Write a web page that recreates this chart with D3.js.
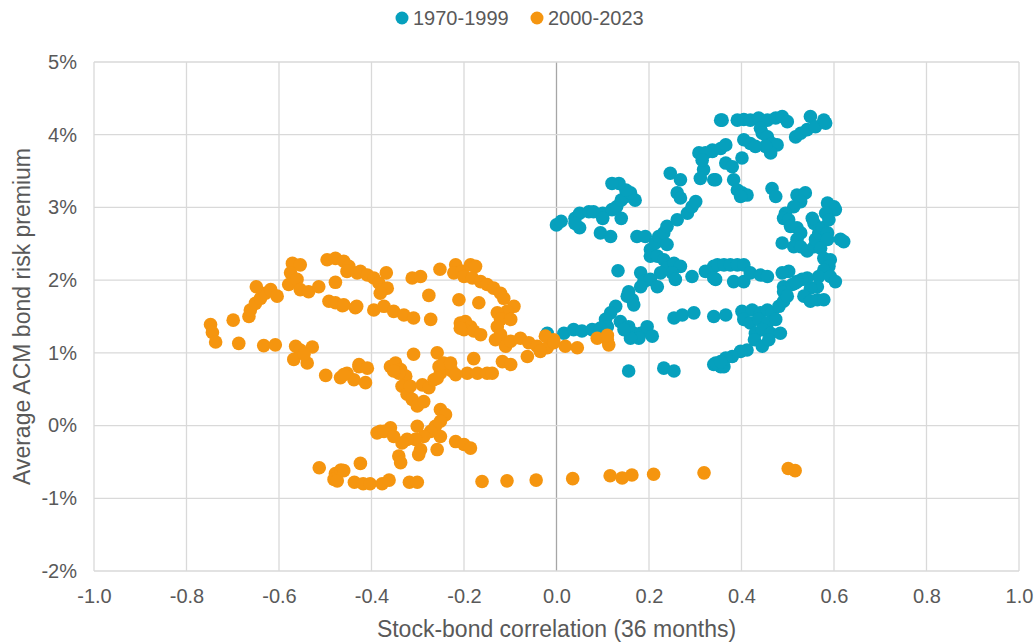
<!DOCTYPE html>
<html>
<head>
<meta charset="utf-8">
<script src="https://cdn.jsdelivr.net/npm/d3@7"></script>
<style>
  body { margin: 0; background: #fff; }
  svg { font-family: "Liberation Sans", Arial, sans-serif; }
</style>
</head>
<body>
<svg width="1034" height="643"></svg>
<script>
// Series names and colours
const seriesNames = ["1970-1999", "2000-2023"];
const seriesColors = ["#06A0BD", "#F5950F"];

// x = stock-bond correlation, y = ACM bond risk premium (%)
const points1970 = [
  [-0.02,1.27],[0.00,2.76],[0.01,2.81],[0.04,2.85],[0.05,2.92],[0.07,2.94],[0.08,2.94],[0.10,2.92],
  [0.12,2.97],[0.13,3.01],[0.14,3.10],[0.15,3.15],[0.17,3.10],[0.16,3.20],[0.15,3.24],[0.135,3.33],
  [0.12,3.33],[0.14,2.85],[0.10,2.85],[0.05,2.72],[0.04,2.78],[0.095,2.65],[0.117,2.60],[0.133,2.13],
  [0.174,2.60],[0.192,2.60],[0.203,2.42],[0.214,2.51],[0.221,2.60],[0.232,2.65],[0.239,2.74],[0.239,2.49],
  [0.203,2.33],[0.218,2.33],[0.261,2.83],[0.283,2.92],[0.293,3.01],[0.301,3.08],[0.246,3.47],[0.268,3.38],
  [0.261,3.20],[0.268,3.13],[0.308,3.75],[0.318,3.52],[0.311,3.40],[0.340,3.38],[0.337,3.79],[0.355,4.20],
  [0.232,2.28],[0.239,2.17],[0.254,2.23],[0.268,2.19],[0.250,2.10],[0.225,2.10],[0.257,2.01],[0.293,2.05],
  [0.322,2.12],[0.340,2.19],[0.344,2.01],[0.182,2.10],[0.189,1.98],[0.203,2.01],[0.218,1.91],[0.182,1.91],
  [0.156,1.84],[0.164,1.73],[0.167,1.66],[0.153,1.78],[0.128,1.64],[0.117,1.55],[0.106,1.46],[0.110,1.36],
  [0.138,1.43],[0.156,1.36],[0.167,1.27],[0.182,1.27],[0.196,1.36],[0.207,1.23],[0.178,1.20],[0.160,1.20],
  [0.146,1.32],[0.016,1.27],[0.037,1.32],[0.055,1.30],[0.077,1.32],[0.095,1.34],[0.254,1.48],[0.272,1.52],
  [0.297,1.55],[0.340,1.50],[0.156,0.75],[0.232,0.79],[0.254,0.75],[0.340,0.84],[0.355,0.81],
  [0.358,4.20],[0.391,4.20],[0.405,4.21],[0.419,4.20],[0.437,4.23],[0.456,4.20],[0.474,4.23],[0.488,4.25],
  [0.499,4.18],[0.441,4.09],[0.445,4.02],[0.456,3.97],[0.466,3.88],[0.477,3.86],[0.463,3.75],[0.452,3.84],
  [0.405,3.93],[0.419,3.88],[0.430,3.84],[0.517,3.97],[0.528,4.02],[0.542,4.07],[0.549,4.25],[0.560,4.11],
  [0.578,4.20],[0.582,4.16],[0.337,3.77],[0.355,3.81],[0.366,3.86],[0.322,3.75],[0.315,3.65],[0.366,3.61],
  [0.380,3.56],[0.401,3.68],[0.344,3.38],[0.383,3.38],[0.391,3.24],[0.401,3.20],[0.412,3.17],[0.398,3.15],
  [0.466,3.26],[0.474,3.15],
  [0.520,3.17],[0.538,3.20],[0.528,3.08],[0.513,3.01],[0.495,2.92],[0.491,2.85],[0.502,2.83],[0.506,2.74],
  [0.520,2.72],[0.528,2.65],[0.520,2.56],[0.513,2.46],[0.488,2.51],[0.528,2.46],[0.542,2.40],[0.557,2.46],
  [0.560,2.56],[0.567,2.65],[0.557,2.78],[0.553,2.85],[0.575,2.72],[0.586,2.65],[0.586,3.06],[0.600,3.01],
  [0.603,2.97],[0.582,2.92],[0.589,2.83],[0.614,2.56],[0.621,2.53],[0.586,2.56],[0.571,2.44],[0.578,2.30],
  [0.592,2.28],[0.589,2.19],[0.578,2.14],[0.567,2.05],[0.592,2.05],[0.603,1.98],[0.564,1.91],[0.549,1.89],
  [0.542,2.03],[0.531,2.01],[0.520,1.98],[0.502,2.12],[0.488,2.10],[0.491,1.91],[0.491,1.84],[0.510,1.94],
  [0.517,1.96],[0.535,1.78],[0.549,1.71],[0.564,1.73],[0.578,1.73],
  [0.340,2.03],[0.348,2.21],[0.362,2.21],[0.376,2.21],[0.391,2.21],[0.405,2.21],[0.383,1.98],[0.405,1.98],
  [0.419,2.10],[0.441,2.07],[0.456,2.05],[0.366,1.52],
  [0.401,1.57],[0.423,1.59],[0.441,1.55],[0.456,1.59],[0.466,1.55],[0.481,1.64],[0.491,1.71],[0.499,1.78],
  [0.405,1.46],[0.419,1.41],[0.437,1.46],[0.456,1.41],[0.474,1.46],[0.430,1.27],[0.445,1.32],[0.463,1.27],
  [0.484,1.27],[0.428,1.18],[0.445,1.09],[0.459,1.18],[0.412,1.04],[0.398,1.02],[0.380,0.95],[0.366,0.93],
  [0.344,0.86],[0.362,0.81],[0.355,0.88]
];

const points2000 = [
  [-0.748,1.39],[-0.744,1.28],[-0.737,1.15],[-0.699,1.45],[-0.687,1.13],[-0.665,1.50],[-0.662,1.59],
  [-0.651,1.68],[-0.640,1.75],[-0.629,1.82],[-0.618,1.87],[-0.604,1.78],[-0.649,1.91],[-0.633,1.10],
  [-0.608,1.11],[-0.571,2.23],[-0.554,2.21],[-0.575,2.10],[-0.579,1.94],[-0.561,2.01],[-0.554,1.87],
  [-0.536,1.84],[-0.514,1.91],[-0.564,1.09],[-0.554,1.04],[-0.528,1.08],[-0.568,0.91],[-0.539,0.86],
  [-0.546,0.98],[-0.499,0.69],[-0.467,0.66],[-0.453,0.72],[-0.438,0.63],[-0.427,0.81],[-0.496,2.28],
  [-0.478,2.30],[-0.460,2.26],[-0.449,2.19],[-0.453,2.12],[-0.431,2.10],[-0.478,1.97],[-0.492,1.71],
  [-0.478,1.69],[-0.463,1.65],[-0.435,1.62],
  [-0.424,2.12],[-0.409,2.07],[-0.395,2.03],[-0.384,1.96],[-0.377,1.87],[-0.366,1.89],[-0.381,1.82],
  [-0.368,2.10],[-0.460,1.66],[-0.432,1.64],[-0.395,1.59],[-0.373,1.64],[-0.352,1.57],[-0.330,1.52],
  [-0.309,1.48],[-0.272,1.46],[-0.312,2.03],[-0.294,2.05],[-0.276,1.79],[-0.252,2.15],
  [-0.218,2.21],[-0.222,2.10],[-0.204,2.12],[-0.186,2.21],[-0.175,2.19],[-0.200,2.05],[-0.182,2.03],
  [-0.164,1.98],[-0.150,1.94],[-0.136,1.89],[-0.121,1.82],[-0.114,1.75],[-0.092,1.64],[-0.107,1.57],
  [-0.128,1.55],[-0.121,1.46],[-0.099,1.46],[-0.128,1.36],[-0.121,1.25],[-0.132,1.18],[-0.110,1.09],
  [-0.099,1.16],[-0.211,1.73],[-0.168,1.69],[-0.208,1.41],[-0.197,1.43],[-0.186,1.36],[-0.200,1.32],
  [-0.179,1.30],[-0.164,1.25],[-0.208,1.34],
  [-0.078,1.20],[-0.060,1.14],[-0.042,1.09],[-0.020,1.07],[-0.063,0.95],[-0.035,1.02],[-0.006,1.18],
  [-0.024,1.23],[-0.006,1.14],[0.019,1.09],[0.045,1.07],[0.088,1.20],[0.110,1.18],[0.113,1.11],[0.110,1.24],
  [-0.179,0.92],[-0.193,0.72],[-0.171,0.72],[-0.150,0.72],[-0.139,0.72],[-0.117,0.88],[-0.099,0.84],
  [-0.309,0.98],[-0.258,1.00],
  [-0.460,0.70],[-0.427,0.84],[-0.409,0.79],[-0.413,0.59],
  [-0.359,0.81],[-0.348,0.86],[-0.337,0.77],[-0.326,0.68],[-0.334,0.54],[-0.323,0.43],[-0.312,0.36],
  [-0.301,0.27],[-0.287,0.33],[-0.316,0.54],[-0.341,0.72],[-0.352,0.75],
  [-0.290,0.56],[-0.276,0.52],[-0.265,0.63],[-0.254,0.81],[-0.251,0.72],[-0.236,0.79],[-0.226,0.75],
  [-0.218,0.70],[-0.244,0.86],[-0.258,0.65],[-0.229,0.86],
  [-0.251,0.22],[-0.240,0.15],[-0.251,0.06],[-0.262,-0.01],[-0.251,-0.15],[-0.258,-0.33],[-0.272,-0.08],
  [-0.287,-0.15],[-0.301,-0.01],[-0.305,-0.19],[-0.294,-0.33],[-0.298,-0.40],[-0.323,-0.19],[-0.334,-0.24],
  [-0.341,-0.42],[-0.337,-0.51],[-0.359,-0.03],[-0.381,-0.08],[-0.388,-0.10],[-0.373,-0.08],[-0.352,-0.15],
  [-0.218,-0.22],[-0.200,-0.26],[-0.186,-0.31],[-0.424,-0.52],
  [-0.513,-0.58],[-0.478,-0.66],[-0.481,-0.74],[-0.466,-0.61],[-0.474,-0.76],[-0.460,-0.62],
  [-0.437,-0.78],[-0.418,-0.80],[-0.403,-0.80],[-0.377,-0.80],[-0.362,-0.75],[-0.318,-0.78],[-0.301,-0.78],
  [-0.161,-0.77],[-0.107,-0.76],[-0.044,-0.75],[0.035,-0.73],[0.116,-0.69],[0.142,-0.72],[0.163,-0.68],
  [0.210,-0.67],[0.319,-0.65],[0.501,-0.59],[0.516,-0.62]
];

const xTicks = [-1.0, -0.8, -0.6, -0.4, -0.2, 0.0, 0.2, 0.4, 0.6, 0.8, 1.0];
const yTicks = [-2, -1, 0, 1, 2, 3, 4, 5];

const svg = d3.select("svg");
const margin = { left: 94, right: 15, top: 62, bottom: 72 };
const width = 1034, height = 643;

const x = d3.scaleLinear().domain([-1, 1]).range([margin.left, width - margin.right]);
const y = d3.scaleLinear().domain([-2, 5]).range([height - margin.bottom, margin.top]);

const gridColor = "#d9d9d9";
const textColor = "#595959";

// grid lines
svg.append("g")
  .selectAll("line.v")
  .data(xTicks)
  .join("line")
  .attr("x1", d => x(d)).attr("x2", d => x(d))
  .attr("y1", y(5)).attr("y2", y(-2))
  .attr("stroke", d => d === 0 ? "#a6a6a6" : gridColor)
  .attr("stroke-width", 1.3);

svg.append("g")
  .selectAll("line.h")
  .data(yTicks)
  .join("line")
  .attr("x1", x(-1)).attr("x2", x(1))
  .attr("y1", d => y(d)).attr("y2", d => y(d))
  .attr("stroke", gridColor)
  .attr("stroke-width", 1.3);

// tick labels via axes (plain hyphen for negatives, like the original)
const xAxis = svg.append("g")
  .attr("transform", `translate(0,${y(-2)})`)
  .call(d3.axisBottom(x).tickValues(xTicks).tickFormat(d => d.toFixed(1)).tickSize(0).tickPadding(18));
const yAxis = svg.append("g")
  .attr("transform", `translate(${x(-1)},0)`)
  .call(d3.axisLeft(y).tickValues(yTicks).tickFormat(d => d + "%").tickSize(0).tickPadding(17));
[xAxis, yAxis].forEach(a => {
  a.select(".domain").remove();
  a.selectAll("text")
    .attr("fill", textColor)
    .style("font-size", "20px")
    .style("font-family", "'Liberation Sans', Arial, sans-serif");
});

// dots: older series first, newer on top
const series = [points1970, points2000];
series.forEach((pts, i) => {
  svg.append("g")
    .selectAll("circle")
    .data(pts)
    .join("circle")
    .attr("cx", d => x(d[0]))
    .attr("cy", d => y(d[1]))
    .attr("r", 6.8)
    .attr("fill", seriesColors[i]);
});

// axis titles
svg.append("text")
  .attr("x", x(0)).attr("y", 637)
  .attr("text-anchor", "middle")
  .attr("fill", textColor)
  .style("font-size", "23px")
  .text("Stock-bond correlation (36 months)");

svg.append("text")
  .attr("transform", `translate(30,${y(1.5)}) rotate(-90)`)
  .attr("text-anchor", "middle")
  .attr("fill", textColor)
  .style("font-size", "23px")
  .text("Average ACM bond risk premium");

// legend
const legend = svg.append("g").attr("transform", "translate(395,18)");
const legendItems = legend.selectAll("g")
  .data(seriesNames)
  .join("g")
  .attr("transform", (d, i) => `translate(${i * 135},0)`);
legendItems.append("circle")
  .attr("cx", 7).attr("cy", 0).attr("r", 6.5)
  .attr("fill", (d, i) => seriesColors[i]);
legendItems.append("text")
  .attr("x", 18).attr("y", 0).attr("dy", "0.35em")
  .attr("fill", textColor)
  .style("font-size", "20px")
  .text(d => d);
</script>
</body>
</html>
